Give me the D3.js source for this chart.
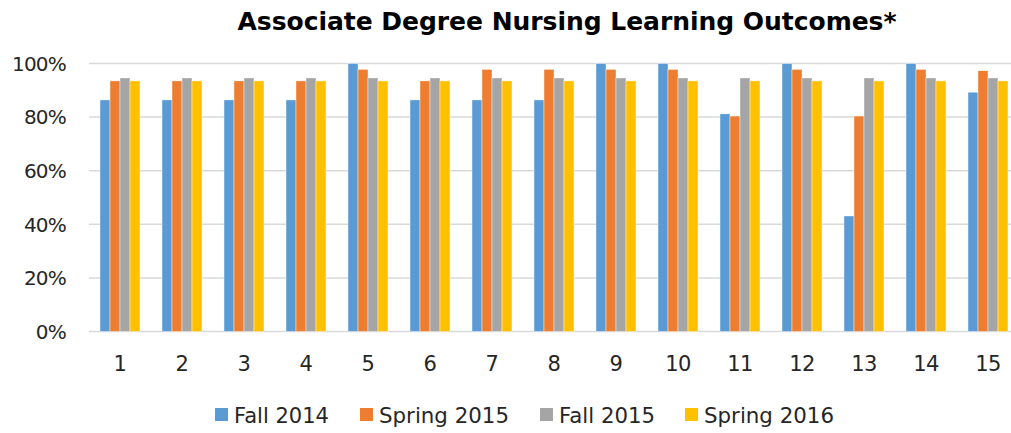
<!DOCTYPE html>
<meta charset="utf-8">
<style>
    body { margin: 0; overflow: hidden; background: #fff; }
    text { font-family: "DejaVu Sans", sans-serif; fill: #262626; }
</style>
<svg id="canvas" width="1011" height="433"></svg>
<script src="https://d3js.org/d3.v7.min.js"></script>
<script>

    var categories = ["1", "2", "3", "4", "5", "6", "7", "8", "9", "10", "11", "12", "13", "14", "15"];
    var seriesNames = ["Fall 2014", "Spring 2015", "Fall 2015", "Spring 2016"];
    var fall2014   = [0.864, 0.864, 0.864, 0.864, 1.000, 0.864, 0.864, 0.864, 1.000, 1.000, 0.812, 1.000, 0.431, 1.000, 0.893];
    var spring2015 = [0.935, 0.935, 0.935, 0.935, 0.978, 0.935, 0.978, 0.978, 0.978, 0.978, 0.804, 0.978, 0.804, 0.978, 0.973];
    var fall2015   = [0.946, 0.946, 0.946, 0.946, 0.946, 0.946, 0.946, 0.946, 0.946, 0.946, 0.946, 0.946, 0.946, 0.946, 0.946];
    var spring2016 = [0.935, 0.935, 0.935, 0.935, 0.935, 0.935, 0.935, 0.935, 0.935, 0.935, 0.935, 0.935, 0.935, 0.935, 0.935];
    var yTicks = [0, 0.2, 0.4, 0.6, 0.8, 1.0];
    var colors = ["#5b9bd5", "#ed7d31", "#a5a5a5", "#ffc000"];

    var series = [fall2014, spring2015, fall2015, spring2016];

    var svg = d3.select("svg");

    var x = d3.scaleBand().domain(categories).range([89, 1019]).paddingInner(0.355).paddingOuter(0.1775);
    var xs = d3.scaleBand().domain(seriesNames).range([0, x.bandwidth()]);
    var y = d3.scaleLinear().domain([0, 1]).range([331.5, 63.5]);

    // gridlines
    svg.append("g")
       .selectAll("line")
       .data(yTicks)
       .enter().append("line")
       .attr("x1", 89).attr("x2", 1011)
       .attr("y1", function(d) { return y(d); })
       .attr("y2", function(d) { return y(d); })
       .attr("stroke", "#d9d9d9")
       .attr("stroke-width", 1.5);

    // y labels
    svg.append("g")
       .selectAll("text")
       .data(yTicks)
       .enter().append("text")
       .attr("x", 66)
       .attr("y", function(d) { return y(d); })
       .attr("dy", "0.36em")
       .attr("text-anchor", "end")
       .style("font-size", "20px")
       .style("letter-spacing", "-0.8px")
       .text(d3.format(".0%"));

    // bars
    var groups = svg.append("g")
       .selectAll("g")
       .data(series)
       .enter().append("g")
       .attr("fill", function(d, i) { return colors[i]; });

    groups.each(function(vals, si) {
        d3.select(this).selectAll("rect")
          .data(vals)
          .enter().append("rect")
          .attr("x", function(d, i) { return x(categories[i]) + xs(seriesNames[si]); })
          .attr("width", xs.bandwidth())
          .attr("y", function(d) { return y(d); })
          .attr("height", function(d) { return y(0) - y(d); })
          .attr("stroke", "#fff")
          .attr("stroke-width", 0.4);
    });

    // x labels
    svg.append("g")
       .selectAll("text")
       .data(categories)
       .enter().append("text")
       .attr("x", function(d) { return x(d) + x.bandwidth() / 2; })
       .attr("y", 371)
       .attr("text-anchor", "middle")
       .style("font-size", "21px")
       .style("letter-spacing", "-0.5px")
       .text(function(d) { return d; });

    // title
    svg.append("text")
       .attr("x", 567)
       .attr("y", 30)
       .attr("text-anchor", "middle")
       .attr("textLength", 659)
       .attr("lengthAdjust", "spacing")
       .style("font-size", "25px")
       .style("font-weight", "bold")
       .style("fill", "#000")
       .text("Associate Degree Nursing Learning Outcomes*");

    // legend
    var legendX = [215, 360, 540, 685];
    var legendW = [95, 130, 96, 130];
    var legend = svg.append("g")
       .selectAll("g")
       .data(seriesNames)
       .enter().append("g")
       .attr("transform", function(d, i) { return "translate(" + legendX[i] + ",0)"; });

    legend.append("rect")
          .attr("x", 0).attr("y", 408)
          .attr("width", 13).attr("height", 13)
          .attr("fill", function(d, i) { return colors[i]; });

    legend.append("text")
          .attr("x", 19)
          .attr("y", 423)
          .attr("textLength", function(d, i) { return legendW[i]; })
          .attr("lengthAdjust", "spacingAndGlyphs")
          .style("font-size", "21px")
          .text(function(d) { return d; });

</script>
